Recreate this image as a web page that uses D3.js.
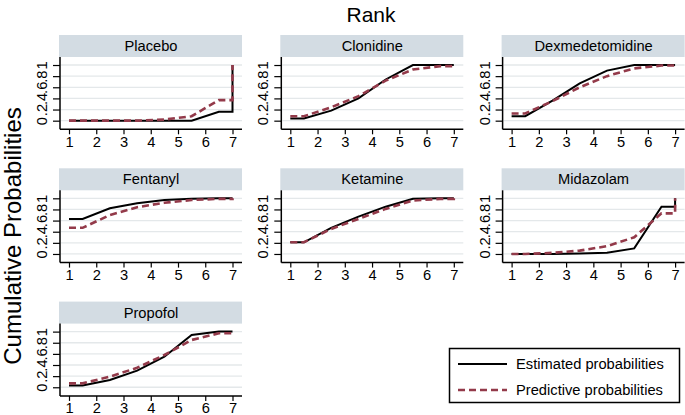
<!DOCTYPE html>
<html>
<head>
<meta charset="utf-8">
<script src="https://cdn.jsdelivr.net/npm/d3@7/dist/d3.min.js"></script>
<style>
  body { margin: 0; background: #fff; }
  svg { font-family: "Liberation Sans", Arial, sans-serif; }
</style>
</head>
<body>
<svg id="chart" width="685" height="415"></svg>
<script>
// cumulative rank probabilities, ranks 1..7
const ranks = [1, 2, 3, 4, 5, 6, 7]
const treatments = ["Placebo", "Clonidine", "Dexmedetomidine", "Fentanyl", "Ketamine", "Midazolam", "Propofol"]
const yTicks = [0, 0.2, 0.4, 0.6, 0.8, 1]
const yTickLabels = ["0", ".2", ".4", ".6", ".8", "1"]

const placeboEst = [0, 0, 0, 0, 0, 0.16, 1]
const clonidineEst = [0.04, 0.18, 0.40, 0.74, 1.0, 1.0, 1]
const dexEst = [0.08, 0.36, 0.67, 0.90, 1.0, 1.0, 1]
const fentanylEst = [0.63, 0.82, 0.91, 0.97, 0.99, 1.0, 1]
const ketamineEst = [0.21, 0.47, 0.67, 0.85, 0.99, 1.0, 1]
const midazolamEst = [0, 0, 0.01, 0.02, 0.10, 0.85, 1]
const propofolEst = [0.03, 0.13, 0.30, 0.55, 0.94, 1.0, 1]

const placeboPred = [0, 0, 0, 0.02, 0.08, 0.37, 1]
const clonidinePred = [0.08, 0.24, 0.44, 0.72, 0.92, 0.98, 1]
const dexPred = [0.13, 0.35, 0.60, 0.80, 0.94, 0.99, 1]
const fentanylPred = [0.47, 0.70, 0.84, 0.92, 0.97, 0.99, 1]
const ketaminePred = [0.21, 0.45, 0.63, 0.81, 0.96, 0.99, 1]
const midazolamPred = [0, 0.02, 0.06, 0.14, 0.30, 0.73, 1]
const propofolPred = [0.07, 0.19, 0.35, 0.58, 0.85, 0.97, 1]

const estimated = [placeboEst, clonidineEst, dexEst, fentanylEst, ketamineEst, midazolamEst, propofolEst]
const predictive = [placeboPred, clonidinePred, dexPred, fentanylPred, ketaminePred, midazolamPred, propofolPred]

const legendLabels = ["Estimated probabilities", "Predictive probabilities"]

const svg = d3.select('#chart')

// layout
const colX = [60, 281.3, 502.6]
const rowTop = [57, 190.3, 323.6]
const plotW = 182, plotH = 72.3, stripH = 22
const fs = 14.7
const darkRed = '#933a4a'
const font = '"Liberation Sans", Arial, sans-serif'

// the line is drawn through rank midpoints, flat at both ends
function toPoints(c) {
  var pts = [[1, c[0]]]
  for (var i = 0; i < 6; i++) pts.push([i + 1.5, c[i]])
  pts.push([7, c[5]])
  pts.push([7, c[6]])
  return pts
}

treatments.forEach((name, i) => {
  var col = i % 3, row = Math.floor(i / 3)
  var x0 = colX[col], top = rowTop[row]

  var x = d3.scaleLinear().domain([1, 7]).range([x0 + 9, x0 + 172.5])
  var y = d3.scaleLinear().domain([-0.155, 1.144]).range([top + plotH, top])

  var g = svg.append('g')

  // strip
  g.append('rect')
    .attr('x', x0 - 1)
    .attr('y', top - stripH)
    .attr('width', plotW + 1)
    .attr('height', stripH)
    .attr('fill', '#d3dce3')
  g.append('text')
    .attr('x', x0 + plotW / 2)
    .attr('y', top - stripH / 2 + 5)
    .attr('text-anchor', 'middle')
    .attr('font-size', fs)
    .text(name)

  // grid
  g.selectAll('.grid')
    .data(yTicks)
    .enter().append('line')
    .attr('x1', x0 + 1)
    .attr('x2', x0 + plotW)
    .attr('y1', d => y(d))
    .attr('y2', d => y(d))
    .attr('stroke', '#e4e8ea')
    .attr('stroke-width', 1.3)

  // y axis
  var yAxis = d3.axisLeft(y).tickValues(yTicks).tickSize(7).tickFormat((d, k) => yTickLabels[k])
  var ya = g.append('g')
    .attr('transform', `translate(${x0},0)`)
    .call(yAxis)
  ya.select('.domain').attr('d', `M0,${top}V${top + plotH}`).attr('stroke', '#000').attr('stroke-width', 1.5)
  ya.selectAll('.tick line').attr('stroke', '#000').attr('stroke-width', 1.2)
  ya.selectAll('.tick text')
    .attr('font-size', fs)
    .attr('font-family', font)
    .attr('fill', '#000')
    .attr('text-anchor', 'middle')
    .attr('x', null).attr('dy', null)
    .attr('transform', 'translate(-13,0) rotate(-90)')

  // x axis
  var xAxis = d3.axisBottom(x).tickValues(ranks).tickSize(5).tickFormat(d3.format('d'))
  var xa = g.append('g')
    .attr('transform', `translate(0,${top + plotH})`)
    .call(xAxis)
  xa.select('.domain').attr('d', `M${x0},0H${x0 + plotW}`).attr('stroke', '#000').attr('stroke-width', 1.5)
  xa.selectAll('.tick line').attr('stroke', '#000').attr('stroke-width', 1.2)
  xa.selectAll('.tick text')
    .attr('font-size', fs)
    .attr('font-family', font)
    .attr('fill', '#000')
    .attr('dy', null)
    .attr('y', 17.5)

  var line = d3.line().x(d => x(d[0])).y(d => y(d[1]))

  g.append('path')
    .attr('d', line(toPoints(estimated[i])))
    .attr('fill', 'none')
    .attr('stroke', '#000')
    .attr('stroke-width', 2)

  g.append('path')
    .attr('d', line(toPoints(predictive[i])))
    .attr('fill', 'none')
    .attr('stroke', darkRed)
    .attr('stroke-width', 2.6)
    .attr('stroke-dasharray', '7,4')
})

// titles
svg.append('text')
  .attr('x', 371)
  .attr('y', 22)
  .attr('text-anchor', 'middle')
  .attr('font-size', 21)
  .text('Rank')

svg.append('text')
  .attr('transform', 'translate(21,236) rotate(-90)')
  .attr('text-anchor', 'middle')
  .attr('font-size', 24)
  .text('Cumulative Probabilities')

// legend
var lg = svg.append('g')
lg.append('rect')
  .attr('x', 449.5).attr('y', 348.5)
  .attr('width', 230).attr('height', 54)
  .attr('fill', '#fff')
  .attr('stroke', '#000')
  .attr('stroke-width', 1.5)

legendLabels.forEach((lab, k) => {
  var ly = 364 + k * 26
  lg.append('line')
    .attr('x1', 458).attr('x2', 507)
    .attr('y1', ly).attr('y2', ly)
    .attr('stroke', k == 0 ? '#000' : darkRed)
    .attr('stroke-width', k == 0 ? 2 : 2.6)
    .attr('stroke-dasharray', k == 0 ? null : '7,4')
  lg.append('text')
    .attr('x', 516)
    .attr('y', ly + 5)
    .attr('font-size', fs)
    .text(lab)
})
</script>
</body>
</html>
